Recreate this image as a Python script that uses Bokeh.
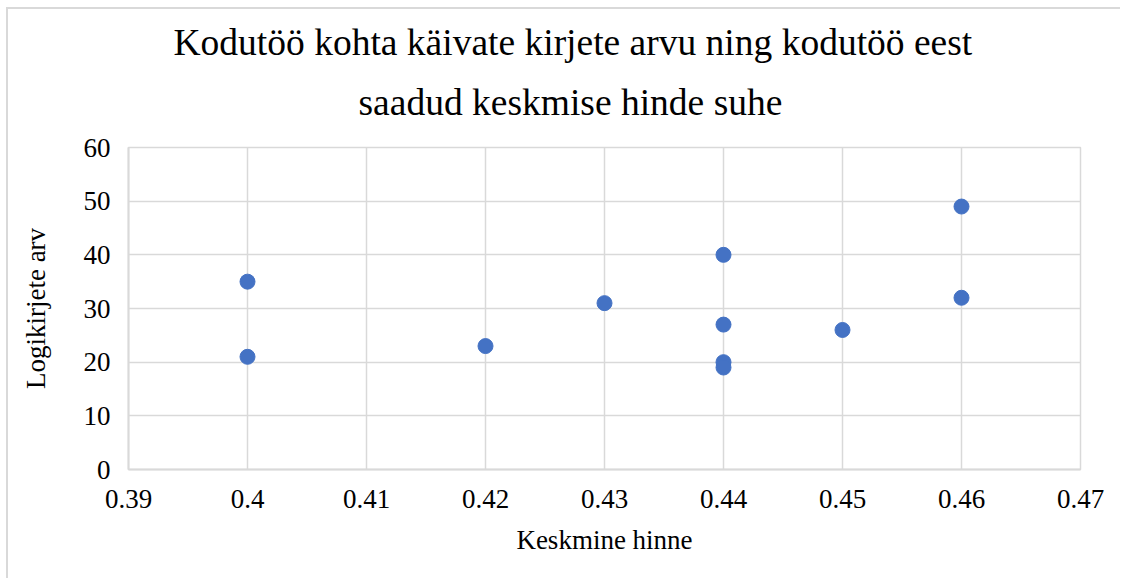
from bokeh.plotting import figure
from bokeh.models import FixedTicker, NumeralTickFormatter, Range1d, Title
from bokeh.embed import file_html
from bokeh.resources import INLINE

# data
keskmine_hinne = [0.40, 0.40, 0.42, 0.43, 0.44, 0.44, 0.44, 0.44, 0.45, 0.46, 0.46]
logikirjete_arv = [35, 21, 23, 31, 40, 27, 20, 19, 26, 49, 32]
x_ticks = [0.39, 0.40, 0.41, 0.42, 0.43, 0.44, 0.45, 0.46, 0.47]
y_ticks = [0, 10, 20, 30, 40, 50, 60]
title_lines = ["Kodutöö kohta käivate kirjete arvu ning kodutöö eest",
               "saadud keskmise hinde suhe"]

FONT = "Liberation Serif"
GRID = "#d9d9d9"

p = figure(width=1114, height=571, output_backend="svg", toolbar_location=None,
           title=None,
           x_range=Range1d(x_ticks[0], x_ticks[-1]), y_range=Range1d(y_ticks[0], y_ticks[-1]),
           min_border_left=120, min_border_right=42, min_border_top=138, min_border_bottom=111)
p.styles = {"border-left": "2px solid #d9d9d9", "border-top": "2px solid #d9d9d9",
            "margin-left": "6px", "margin-top": "7px"}

def make_title(text, offset, standoff):
    t = Title(text=text, align="left", offset=offset, standoff=standoff,
              text_font=FONT, text_font_size="37.5px", text_font_style="normal",
              text_color="#000000")
    p.add_layout(t, "above")

make_title(title_lines[1], 230, 49)
make_title(title_lines[0], 45, -14)

p.scatter(keskmine_hinne, logikirjete_arv, size=15, marker="circle",
          fill_color="#4472C4", line_color="#4472C4")

p.xaxis.ticker = FixedTicker(ticks=x_ticks)
p.yaxis.ticker = FixedTicker(ticks=y_ticks)
p.xaxis.formatter = NumeralTickFormatter(format="0.[00]")

for ax in (p.xaxis, p.yaxis):
    ax.axis_line_color = GRID
    ax.axis_line_width = 2
    ax.major_tick_line_color = None
    ax.minor_tick_line_color = None
    ax.major_label_text_font = FONT
    ax.major_label_text_font_size = "27px"
    ax.major_label_text_color = "#000000"
    ax.axis_label_text_font = FONT
    ax.axis_label_text_font_size = "27px"
    ax.axis_label_text_font_style = "normal"
    ax.axis_label_text_color = "#000000"

p.xaxis.axis_label = "Keskmine hinne"
p.yaxis.axis_label = "Logikirjete arv"
p.xaxis.major_label_standoff = 14
p.yaxis.major_label_standoff = 12
p.xaxis.axis_label_standoff = 14
p.yaxis.axis_label_standoff = 30

p.grid.grid_line_color = GRID
p.grid.grid_line_width = 1.5
p.outline_line_color = GRID
p.outline_line_width = 1.5

open("out.html", "w").write(file_html(p, INLINE))
